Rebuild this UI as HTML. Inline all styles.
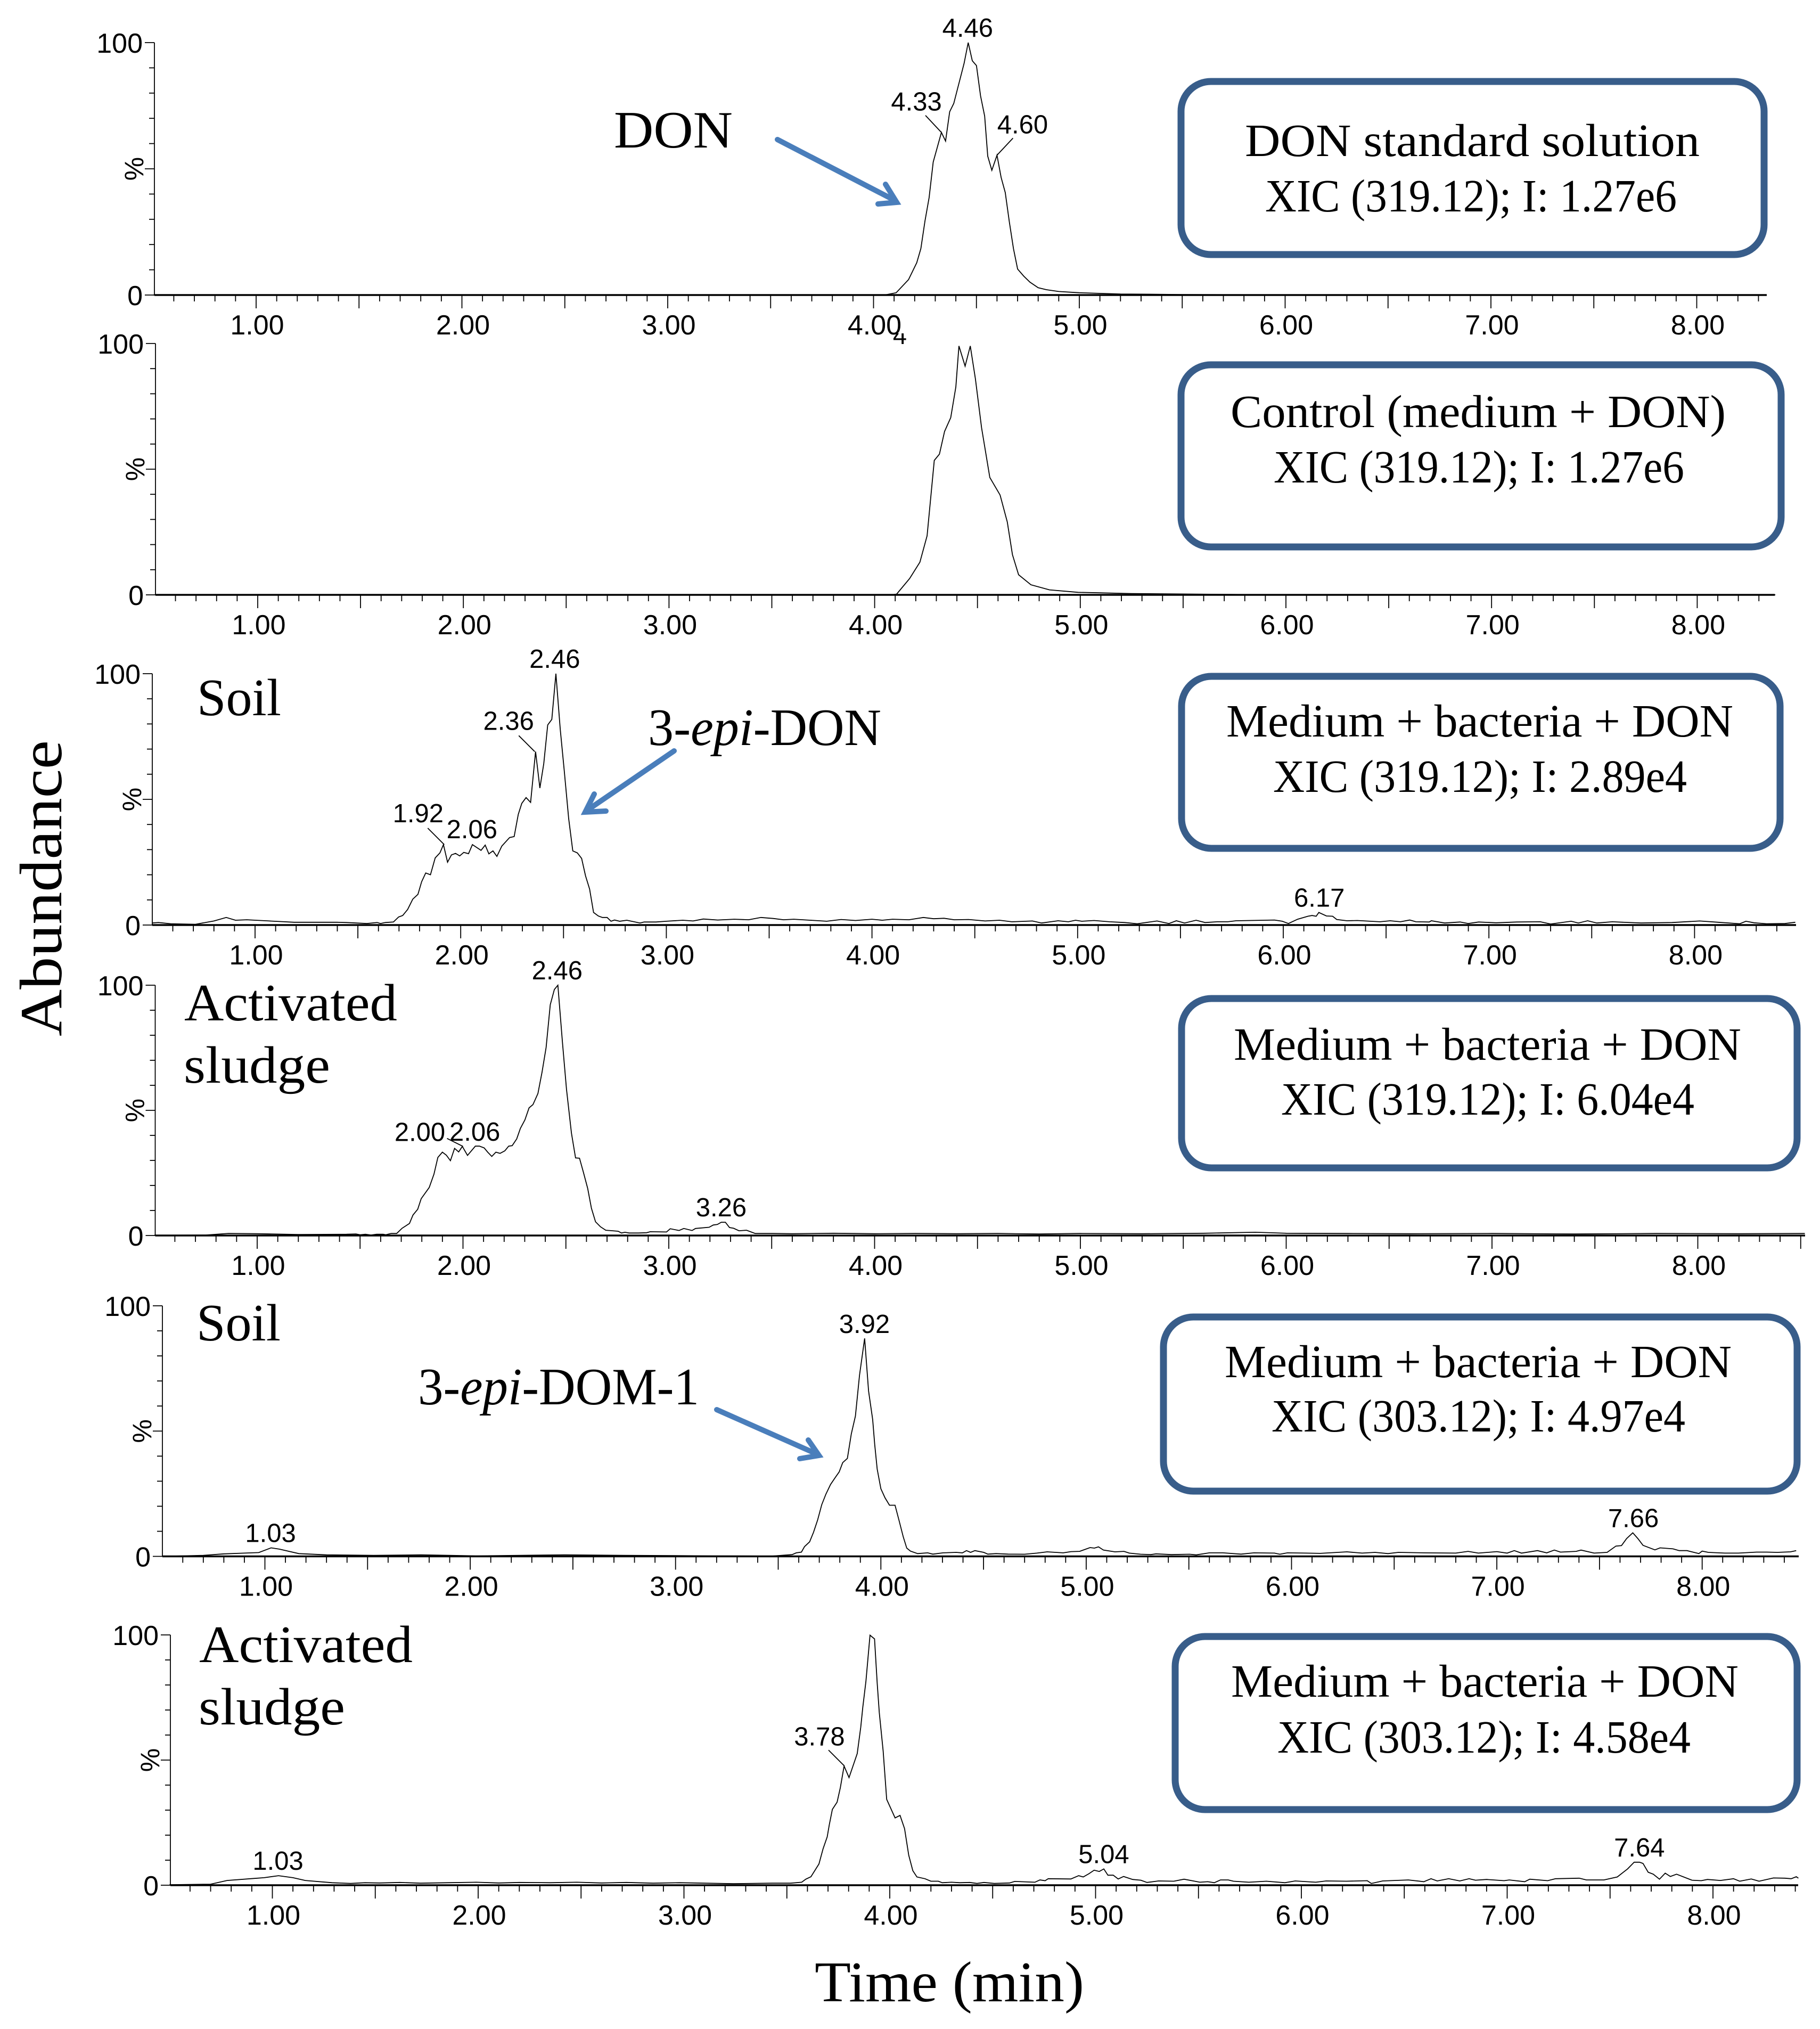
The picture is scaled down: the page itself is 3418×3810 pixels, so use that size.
<!DOCTYPE html>
<html lang="en">
<head>
<meta charset="utf-8">
<title>XIC chromatograms of DON, 3-epi-DON and 3-epi-DOM-1</title>
<style>
html,body{margin:0;padding:0;background:#fff;width:3418px;height:3810px;overflow:hidden}
svg{display:block}
.box{fill:#fff;stroke:#385D8A;stroke-width:13}
.serif{font-family:"Liberation Serif",serif;fill:#000}
.bt{font-size:87px}
.an{font-size:99px}
.arrow{fill:none;stroke:#4A7EBB;stroke-width:10;stroke-linecap:round;stroke-linejoin:miter}
.sans{font-family:"Liberation Sans",sans-serif;fill:#000}
</style>
</head>
<body>
<svg id="figure" xmlns="http://www.w3.org/2000/svg" width="3418" height="3810" viewBox="0 0 3418 3810">
  <rect x="0" y="0" width="3418" height="3810" fill="#fff"/>
  <g id="charts"></g>

  <g>
    <rect class="box" x="2218" y="153" width="1095" height="325" rx="56"/>
    <text class="serif bt" x="2338" y="293" textLength="854" lengthAdjust="spacingAndGlyphs">DON standard solution</text>
    <text class="serif bt" x="2376" y="397" textLength="773" lengthAdjust="spacingAndGlyphs">XIC (319.12); I: 1.27e6</text>
  </g>
  <g>
    <rect class="box" x="2218" y="685" width="1127" height="342" rx="56"/>
    <text class="serif bt" x="2311" y="802" textLength="930" lengthAdjust="spacingAndGlyphs">Control (medium + DON)</text>
    <text class="serif bt" x="2392" y="906" textLength="771" lengthAdjust="spacingAndGlyphs">XIC (319.12); I: 1.27e6</text>
  </g>
  <g>
    <rect class="box" x="2219" y="1270" width="1124" height="323" rx="56"/>
    <text class="serif bt" x="2303" y="1383" textLength="952" lengthAdjust="spacingAndGlyphs">Medium + bacteria + DON</text>
    <text class="serif bt" x="2391" y="1487" textLength="777" lengthAdjust="spacingAndGlyphs">XIC (319.12); I: 2.89e4</text>
  </g>
  <g>
    <rect class="box" x="2219" y="1875" width="1156" height="318" rx="56"/>
    <text class="serif bt" x="2317" y="1990" textLength="953" lengthAdjust="spacingAndGlyphs">Medium + bacteria + DON</text>
    <text class="serif bt" x="2406" y="2093" textLength="776" lengthAdjust="spacingAndGlyphs">XIC (319.12); I: 6.04e4</text>
  </g>
  <g>
    <rect class="box" x="2185" y="2473" width="1190" height="327" rx="56"/>
    <text class="serif bt" x="2300" y="2586" textLength="952" lengthAdjust="spacingAndGlyphs">Medium + bacteria + DON</text>
    <text class="serif bt" x="2388" y="2688" textLength="777" lengthAdjust="spacingAndGlyphs">XIC (303.12); I: 4.97e4</text>
  </g>
  <g>
    <rect class="box" x="2207" y="3073" width="1168" height="325" rx="56"/>
    <text class="serif bt" x="2312" y="3186" textLength="953" lengthAdjust="spacingAndGlyphs">Medium + bacteria + DON</text>
    <text class="serif bt" x="2399" y="3291" textLength="776" lengthAdjust="spacingAndGlyphs">XIC (303.12); I: 4.58e4</text>
  </g>

  <text class="serif an" x="1153" y="277" textLength="223" lengthAdjust="spacingAndGlyphs">DON</text>
  <text class="serif an" x="370" y="1343" textLength="158" lengthAdjust="spacingAndGlyphs">Soil</text>
  <text class="serif an" x="1217" y="1399" textLength="438" lengthAdjust="spacingAndGlyphs">3-<tspan font-style="italic">epi</tspan>-DON</text>
  <text class="serif an" x="346" y="1916" textLength="400" lengthAdjust="spacingAndGlyphs">Activated</text>
  <text class="serif an" x="345" y="2033" textLength="275" lengthAdjust="spacingAndGlyphs">sludge</text>
  <text class="serif an" x="369" y="2517" textLength="158" lengthAdjust="spacingAndGlyphs">Soil</text>
  <text class="serif an" x="785" y="2637" textLength="528" lengthAdjust="spacingAndGlyphs">3-<tspan font-style="italic">epi</tspan>-DOM-1</text>
  <text class="serif an" x="374" y="3121" textLength="401" lengthAdjust="spacingAndGlyphs">Activated</text>
  <text class="serif an" x="373" y="3238" textLength="275" lengthAdjust="spacingAndGlyphs">sludge</text>

  <g>
    <line class="arrow" x1="1460" y1="262" x2="1676" y2="374"/>
    <path class="arrow" d="M1663 346 L1684 380 L1649 383"/>
  </g>
  <g>
    <line class="arrow" x1="1266" y1="1410" x2="1105" y2="1520"/>
    <path class="arrow" d="M1116 1491 L1099 1525 L1138 1523"/>
  </g>
  <g>
    <line class="arrow" x1="1346" y1="2647" x2="1531" y2="2729"/>
    <path class="arrow" d="M1518 2704 L1538 2733 L1502 2739"/>
  </g>

  <text class="serif" font-size="112" transform="translate(115,1946) rotate(-90)" textLength="556" lengthAdjust="spacingAndGlyphs">Abundance</text>
  <text class="serif" font-size="108" x="1530" y="3758" textLength="506" lengthAdjust="spacingAndGlyphs">Time (min)</text>
</svg>

<script>
// ---- Axis tick values ----
const xTickValues = [1, 2, 3, 4, 5, 6, 7, 8];
const yTickLabels = [0, 100];

// ---- Panel 1: DON standard solution ----
const p1Times = [0.5,4.05,4.06,4.11,4.17,4.21,4.23,4.25,4.27,4.29,4.33,4.35,4.37,4.39,4.42,4.44,4.46,4.48,4.50,4.52,4.54,4.555,4.575,4.60,4.62,4.64,4.66,4.68,4.70,4.73,4.76,4.80,4.84,4.90,5.0,5.2,5.5,6.0,7.0,8.34];
const p1Values = [0,0,0.1,0.9,6.1,12.8,18.4,29.3,38.6,52.7,64.4,61,72.6,75.9,85.4,91.8,100,92.8,90.9,78.9,70.9,55,49.4,55.4,46.6,40.6,28.9,18.4,10.3,7.5,5.1,2.9,2.1,1.4,0.9,0.4,0.2,0.05,0,0];
const p1PeakTimes = [4.33,4.46,4.60];
const p1PeakValues = [64.4,100,55.4];

// ---- Panel 2: Control ----
const p2Times = [0.5,4.08,4.107,4.17,4.22,4.255,4.29,4.315,4.34,4.37,4.395,4.41,4.44,4.465,4.49,4.52,4.56,4.61,4.645,4.67,4.70,4.76,4.85,4.99,5.25,5.8,6.5,8.38];
const p2Values = [0,0,0.3,6.5,13,23.5,53.5,56,65,70.5,82.7,99,91,99,86,66.5,46.7,39.7,29,16,8,4,2,1,0.5,0.1,0,0];

// ---- Panel 3: Soil, 319.12 ----
const p3Times = [0.5,0.53,0.59,0.71,0.8,0.86,0.905,0.96,1.07,1.19,1.4,1.445,1.544,1.594,1.61,1.633,1.673,1.698,1.718,1.742,1.767,1.792,1.81,1.83,1.853,1.876,1.899,1.916,1.936,1.955,1.975,1.995,2.015,2.038,2.057,2.099,2.119,2.137,2.157,2.176,2.20,2.238,2.26,2.28,2.297,2.318,2.34,2.364,2.385,2.404,2.423,2.443,2.463,2.484,2.503,2.525,2.545,2.567,2.588,2.607,2.627,2.646,2.669,2.689,2.712,2.731,2.748,2.773,2.808,2.872,2.892,2.95,3.0,3.08,3.13,3.18,3.25,3.33,3.4,3.46,3.52,3.57,3.62,3.7,3.78,3.85,3.92,4.0,4.05,4.1,4.18,4.25,4.3,4.35,4.4,4.47,4.55,4.62,4.68,4.78,4.825,4.905,4.955,4.99,5.02,5.08,5.155,5.23,5.29,5.386,5.444,5.48,5.52,5.576,5.62,5.68,5.73,5.77,5.957,5.995,6.025,6.07,6.12,6.14,6.16,6.173,6.21,6.24,6.26,6.31,6.36,6.47,6.52,6.57,6.615,6.645,6.71,6.72,6.785,6.86,6.9,6.95,7.035,7.135,7.25,7.3,7.4,7.435,7.48,7.525,7.6,7.74,7.89,8.025,8.115,8.22,8.25,8.29,8.35,8.44,8.49];
const p3Values = [0.8,1,0.5,0.3,1.6,3,1.9,2.1,1.6,1.1,1.1,1,0.6,1,0.6,1,1.2,3.2,3.8,6.2,10.3,12.2,17.2,20.7,20,26.7,28.7,32,25,27.9,28.5,27.5,28.9,28.4,32,29.7,31.8,28.3,29.5,27.3,31.4,34.8,35.2,44,48.4,50.7,48.8,69,54.5,64.2,79.6,81.8,100,78,61.8,42.3,29.5,28.7,26.5,19.6,14.3,5,3.6,3,3,1.5,2,1.5,1.9,0.8,1.2,1.2,1.5,1.9,1.6,2.4,2,2.3,2.1,3,2.6,2.1,2.3,1.9,1.5,2.2,1.8,2.3,1.9,2.3,2.1,3,2.5,2.7,2.1,2.2,1.6,1.9,1.3,1.6,0.8,1.7,1.3,1.9,1.5,1.8,1.3,1,0.5,1.6,0.6,1.7,0.8,1.9,1,1.3,1.3,1.7,2,1.5,0.6,2.3,3.5,3.8,3.5,5,3.6,3.5,2.2,1.7,1.8,1.3,1.7,1.3,2,1.3,1.2,1.7,0.8,1.2,0.6,1.2,0.9,1.2,1.3,0.4,1.5,0.8,1.7,0.8,1.3,0.8,1,1.6,1.1,0.5,1.5,0.9,0.5,0.6,1.1];
const p3PeakTimes = [1.92,2.06,2.36,2.46,6.17];
const p3PeakValues = [32,32,69,100,5];

// ---- Panel 4: Activated sludge, 319.12 ----
const p4Times = [0.5,0.75,0.86,1.0,1.2,1.434,1.48,1.50,1.526,1.553,1.58,1.612,1.625,1.651,1.678,1.704,1.74,1.757,1.78,1.797,1.836,1.859,1.878,1.90,1.919,1.939,1.959,1.979,1.997,2.022,2.06,2.08,2.103,2.12,2.14,2.16,2.18,2.203,2.222,2.239,2.261,2.279,2.301,2.321,2.34,2.364,2.384,2.404,2.424,2.444,2.461,2.483,2.503,2.527,2.547,2.566,2.585,2.606,2.624,2.644,2.668,2.694,2.754,2.77,2.787,2.807,2.853,2.892,2.91,2.989,3.007,3.05,3.073,3.113,3.13,3.196,3.216,3.236,3.255,3.275,3.295,3.315,3.341,3.378,3.42,3.504,3.6,3.8,4.0,4.2,4.4,4.6,4.8,5.0,5.3,5.6,5.85,6.0,6.3,6.6,7.0,7.4,7.8,8.2,8.52];
const p4Values = [0.1,0.2,0.8,0.7,0.4,0.5,0.6,0.3,0.5,0.2,0.5,0.5,0.3,0.8,0.8,2.9,4.8,8.2,10.5,14.7,19.2,24.5,31.2,33.3,32.1,29.9,34.8,33.4,35.6,32,35.7,35.7,35,33.3,31.6,33.3,32.8,33.8,35.7,35.9,38.6,42.8,46.2,51,52.3,56.7,65.2,75.1,92.2,98.3,100,77.4,58.4,40.9,31,30.9,25.3,18.8,10.9,5.5,3.5,2.1,1.7,1,1.3,1,1,1.1,1.5,1.4,2.7,2,2.8,2,2.8,3.3,4.2,4.4,5.3,5.3,3.2,2.9,1.9,2.1,0.8,0.8,0.7,0.9,0.7,0.8,0.7,0.8,0.6,0.8,0.7,0.9,1.3,0.9,0.8,0.7,0.8,0.6,0.8,0.7,0.8];
const p4PeakTimes = [2.00,2.06,2.46,3.26];
const p4PeakValues = [35.6,35.7,100,5.3];

// ---- Panel 5: Soil, 303.12 ----
const p5Times = [0.5,0.7,0.8,0.9,0.97,1.03,1.07,1.165,1.3,1.53,1.76,2.03,2.46,2.75,3.18,3.469,3.568,3.588,3.613,3.628,3.653,3.672,3.692,3.712,3.732,3.755,3.779,3.797,3.814,3.837,3.856,3.876,3.896,3.921,3.94,3.96,3.97,3.982,4.0,4.02,4.042,4.069,4.089,4.109,4.126,4.144,4.179,4.228,4.253,4.303,4.367,4.397,4.417,4.437,4.458,4.501,4.521,4.561,4.62,4.70,4.76,4.81,4.888,4.926,4.968,5.019,5.04,5.06,5.084,5.14,5.184,5.21,5.265,5.315,5.34,5.415,5.503,5.536,5.6,5.666,5.754,5.817,5.917,5.943,5.98,6.07,6.14,6.27,6.344,6.407,6.47,6.52,6.645,6.8,6.86,6.91,7.0,7.05,7.085,7.12,7.198,7.243,7.28,7.31,7.386,7.41,7.474,7.537,7.58,7.607,7.632,7.662,7.687,7.712,7.77,7.795,7.858,7.888,7.926,7.984,8.0,8.03,8.11,8.177,8.265,8.315,8.366,8.43,8.458];
const p5Values = [0,0.4,1,1.3,1.5,3.4,2.9,1.1,0.6,0.4,0.6,0.2,0.6,0.4,0.2,0.1,0.7,1.4,1.7,3.9,5.8,9.6,14.5,20.6,24.8,28.7,31.6,33.7,37.4,39.1,48.9,56,72.3,87,66,54.6,44.7,34.8,27,23.4,20.4,20.4,14.2,7.8,3.3,2.1,1.1,1.4,0.9,1.4,1.6,1.4,2.3,1.6,2.3,1.6,0.9,1.1,0.9,0.85,1.3,1.8,1.4,1.9,2,3.5,3.3,3.8,2.5,1.8,2,1.3,0.85,0.7,1,0.7,0.85,0.6,1.4,1.4,0.9,1.4,1.3,0.85,1.4,1.3,1.2,1.8,1.3,1.6,1.1,1.6,1.4,1.3,2,1.3,1.9,1.3,2.3,1.3,2.3,1.4,2.5,1.7,2,2.5,1.3,1.6,4.1,4.3,7.1,9.4,7.1,4.4,2.6,3.4,3,2.3,2.3,1.1,2.1,1.6,1.3,1.3,1.7,1.7,1.6,1.8,2.3];
const p5PeakTimes = [1.03,3.92,7.66];
const p5PeakValues = [3.4,87,9.4];

// ---- Panel 6: Activated sludge, 303.12 ----
const p6Times = [0.5,0.7,0.78,0.91,0.96,1.03,1.1,1.16,1.29,1.38,1.45,1.52,1.62,1.72,1.85,1.99,2.1,2.2,2.35,2.48,2.6,2.72,2.85,2.98,3.1,3.24,3.429,3.518,3.572,3.592,3.617,3.656,3.676,3.696,3.706,3.721,3.744,3.76,3.778,3.802,3.842,3.859,3.869,3.884,3.904,3.926,3.939,3.949,3.968,3.985,4.026,4.05,4.072,4.092,4.112,4.132,4.171,4.2,4.236,4.255,4.3,4.34,4.389,4.424,4.458,4.508,4.582,4.607,4.705,4.73,4.755,4.77,4.88,4.918,4.94,4.968,4.993,5.018,5.04,5.06,5.086,5.11,5.136,5.18,5.22,5.25,5.306,5.38,5.43,5.507,5.545,5.577,5.607,5.645,5.67,5.745,5.83,5.92,5.97,6.07,6.12,6.22,6.32,6.34,6.395,6.52,6.595,6.63,6.66,6.716,6.77,6.815,6.846,6.9,6.985,7.01,7.085,7.11,7.197,7.235,7.35,7.385,7.47,7.535,7.585,7.617,7.643,7.66,7.685,7.71,7.74,7.768,7.793,7.823,7.898,7.943,7.973,8.036,8.1,8.13,8.186,8.224,8.294,8.35,8.38,8.405,8.415];
const p6Values = [0.2,0.4,1.9,2.7,3,3.8,3,1.9,1,0.7,1,0.9,1.1,0.8,1,1.2,0.9,1.1,1,1.2,0.9,1.1,0.8,1,0.8,0.6,0.8,0.8,1.2,2.4,3.4,8.5,14.6,19.3,24.1,30.3,33.2,39,47.6,43,52.6,63.1,71.2,81.4,99.9,98.4,80.7,69,53.6,34.3,26.9,27.9,22.6,12,5.8,3.3,2.6,1.6,1.6,1,1.2,1,1.1,0.7,1.1,0.7,0.9,1.5,1.2,2.1,1.8,2.6,2.5,3.8,3.3,4.6,6,5.5,6.5,4,4,2.5,3.5,2.3,2,1.1,1.7,1.6,2.4,1.2,1.4,1,2.1,2.1,1.6,1.2,1.6,1,1.7,1.2,1.7,1.6,1.8,0.7,1.7,2.1,1.4,2.6,1.7,2.6,1.7,2.6,2,2.3,1.8,2.1,1.4,2.4,1.8,2.6,2.8,2.1,2.1,3.3,6.5,9.2,9.2,8.7,5.2,4.4,2.4,4.8,3.5,4.4,2,1.8,2.3,1.9,2.6,1.6,2.5,1.6,2.9,2.8,2.6,3.4,2.8];
const p6PeakTimes = [1.03,3.78,5.04,7.64];
const p6PeakValues = [3.8,47.6,6.5,9.2];

// ---- Axis geometry for each panel (pixels) ----
const layouts = [
  {name:'don-standard', times:p1Times, values:p1Values, peaks:p1PeakTimes, heights:p1PeakValues, axisX:290, end:3318, xOne:481, k:386.5, y0:554, y100:80,
   labelOffsets:[[-47,-41,-30,-32],[-1,-11,0,0],[48,-41,30,-32]]},
  {name:'control', times:p2Times, values:p2Values, peaks:[], heights:[], axisX:292, end:3333, xOne:484, k:386.2, y0:1117, y100:645, labelOffsets:[]},
  {name:'soil-don', times:p3Times, values:p3Values, peaks:p3PeakTimes, heights:p3PeakValues, axisX:286, end:3373, xOne:479, k:386.2, y0:1737, y100:1265,
   labelOffsets:[[-49,-42,-31,-31],[-2,-12,0,0],[-49,-41,-30,-30],[-1,-11,0,0],[2,-11,0,0]]},
  {name:'sludge-don', times:p4Times, values:p4Values, peaks:p4PeakTimes, heights:p4PeakValues, axisX:291.5, end:3390, xOne:483, k:386.5, y0:2320, y100:1850,
   labelOffsets:[[-81,-10,-30,-15],[-1,-10,0,0],[-1,-11,0,0],[-2,-11,0,0]]},
  {name:'soil-dom', times:p5Times, values:p5Values, peaks:p5PeakTimes, heights:p5PeakValues, axisX:305, end:3378, xOne:497.5, k:385.6, y0:2922.5, y100:2452,
   labelOffsets:[[-1,-11,0,0],[0,-10,0,0],[2,-11,0,0]]},
  {name:'sludge-dom', times:p6Times, values:p6Values, peaks:p6PeakTimes, heights:p6PeakValues, axisX:320, end:3377, xOne:511.5, k:386.5, y0:3540, y100:3070,
   labelOffsets:[[-1,-11,0,0],[-47,-39,-30,-30],[0,-11,0,0],[1,-11,0,0]]}
];

const NS = 'http://www.w3.org/2000/svg';
const host = document.getElementById('charts');

function shape(parent, tag, attrs) {
  const el = document.createElementNS(NS, tag);
  for (const key in attrs) el.setAttribute(key, attrs[key]);
  parent.appendChild(el);
  return el;
}

layouts.forEach(function (p) {
  const xScale = function (t) { return p.xOne + (t - 1) * p.k; };
  const yScale = function (v) { return p.y0 - (v / 100) * (p.y0 - p.y100); };

  const g = shape(host, 'g', {});
  
  

  // X axis ticks
  for (let i = 6; xScale(i / 10) <= p.end; i++) {
    const isLong = i % 5 === 0;
    const tick = shape(g, 'line', {x1:xScale(i / 10), x2:xScale(i / 10), y1:p.y0, y2:p.y0 + (isLong ? 25 : 12), stroke:'#000', 'stroke-width':1.8});
    
    
  }
  xTickValues.forEach(function (t) {
    const label = shape(g, 'text', {x:xScale(t) + 2, y:p.y0 + 74, 'text-anchor':'middle', 'font-size':52, 'class':'sans'});
    label.textContent = t.toFixed(2);
    
    
  });

  // Y axis ticks
  for (let v = 0; v <= 100; v += 10) {
    const tick = shape(g, 'line', {x1:p.axisX - (v % 50 === 0 ? 18 : 10), x2:p.axisX, y1:yScale(v), y2:yScale(v), stroke:'#000', 'stroke-width':1.8});
    
    
  }
  yTickLabels.forEach(function (v) {
    const label = shape(g, 'text', {x:p.axisX - 22, y:yScale(v) + 19, 'text-anchor':'end', 'font-size':52, 'class':'sans'});
    label.textContent = String(v);
    
    
  });
  const mid = yScale(50);
  const pct = shape(g, 'text', {transform:'translate(' + (p.axisX - 21) + ',' + mid + ') rotate(-90)', 'text-anchor':'middle', 'font-size':50, 'class':'sans'});
  pct.textContent = '%';
  
  

  // Axis lines
  const yLine = shape(g, 'line', {x1:p.axisX, x2:p.axisX, y1:p.y100, y2:p.y0, stroke:'#000', 'stroke-width':1.8});
  
  
  const xLine = shape(g, 'line', {x1:p.axisX, x2:p.end, y1:p.y0, y2:p.y0, stroke:'#000', 'stroke-width':3.4});
  
  

  // Trace
  const pts = p.times.map(function (t, i) { return xScale(t).toFixed(1) + ',' + yScale(p.values[i]).toFixed(1); }).join(' ');
  const trace = shape(g, 'polyline', {points:pts, fill:'none', stroke:'#000', 'stroke-width':1.8, 'stroke-linejoin':'miter'});
  
  

  // Peak labels
  p.peaks.forEach(function (t, i) {
    const off = p.labelOffsets[i];
    const px = xScale(t);
    const py = yScale(p.heights[i]);
    const label = shape(g, 'text', {x:px + off[0], y:py + off[1], 'text-anchor':'middle', 'font-size':49, 'class':'sans'});
    label.textContent = t.toFixed(2);
    
    
    if (off[2] !== 0) {
      const leader = shape(g, 'line', {x1:px, y1:py, x2:px + off[2], y2:py + off[3], stroke:'#000', 'stroke-width':1.8});
      
      
    }
  });
});

// Clipped stray glyph above the second panel's peak region
const clip = shape(host, 'clipPath', {id:'stray-clip'});
shape(clip, 'rect', {x:1660, y:626, width:60, height:24});
const stray = shape(host, 'text', {x:1690, y:646, 'text-anchor':'middle', 'font-size':47, 'class':'sans', 'clip-path':'url(#stray-clip)'});
stray.textContent = '4';


</script>
</body>
</html>
